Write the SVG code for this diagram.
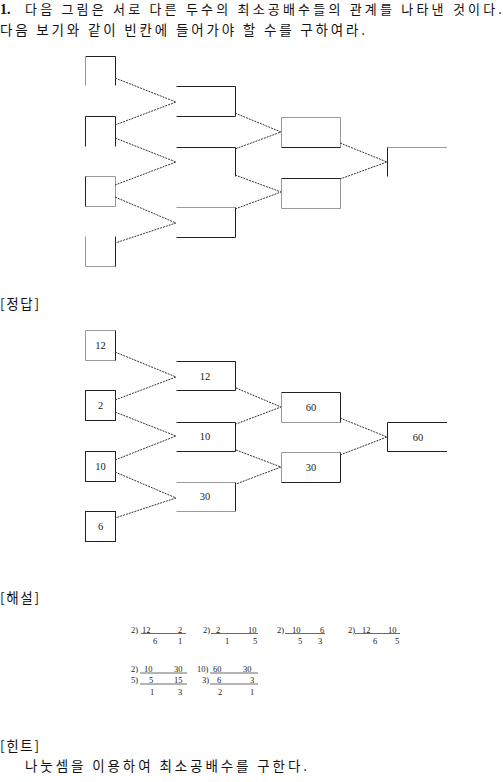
<svg xmlns="http://www.w3.org/2000/svg" width="503" height="782" viewBox="0 0 503 782">
<style>
.ko{font-family:"Noto Sans CJK KR","Noto Sans",sans-serif;font-size:13.5px;fill:#111}
.num{font-family:"Liberation Serif",serif;font-size:10.5px;fill:#222;text-anchor:middle}
.ex{font-family:"Liberation Serif",serif;font-size:8.5px;fill:#222}
.d{stroke:#222;stroke-width:1;fill:none}
.g{stroke:#999;stroke-width:1;fill:none}
.dash{stroke:#333;stroke-width:1;stroke-dasharray:2 1;fill:none}
.ul{stroke:#444;stroke-width:0.8}
</style>
<rect width="503" height="782" fill="#fff"/>
<g id="question">
<text x="0" y="14" style="font-family:'Liberation Serif',serif;font-weight:bold;font-size:14px;fill:#111">1.</text>
<text class="ko" x="25" y="14" style="font-size:13px" textLength="477" lengthAdjust="spacing">다음 그림은 서로 다른 두수의 최소공배수들의 관계를 나타낸 것이다.</text>
<text class="ko" x="0" y="35" textLength="365" lengthAdjust="spacing">다음 보기와 같이 빈칸에 들어가야 할 수를 구하여라.</text>
</g>
<g id="diagram1">
<g id="q-n12"><path class="d" d="M85.5,56.5H115.5V85.5"/><path class="g" d="M85.5,56.5V85.5"/></g>
<g id="q-n2"><path class="d" d="M85.5,146.5V116.5H115.5V146.5"/></g>
<g id="q-n10"><path class="g" d="M85.5,176.5H115.5V206.5H85.5"/><path class="d" d="M85.5,176.5V206.5"/></g>
<g id="q-n6"><path class="g" d="M85.5,236.5V266.5H115.5"/><path class="d" d="M115.5,236.5V266.5"/></g>
<g id="q-a"><path class="d" d="M176.5,86.5H235.5V116.5H176.5"/></g>
<g id="q-b"><path class="d" d="M176.5,147.5H235.5V176.5"/></g>
<g id="q-c"><path class="g" d="M176.5,207.5H235.5"/><path class="d" d="M235.5,207.5V237.5H176.5"/></g>
<g id="q-d"><path class="g" d="M281.5,147.5V117.5H340.5V147.5"/><path class="d" d="M281.5,147.5H340.5"/></g>
<g id="q-e"><path class="d" d="M281.5,178.5H340.5"/><path class="g" d="M281.5,178.5V208.5H340.5V178.5"/></g>
<g id="q-f"><path class="g" d="M387.5,147.5H447"/><path class="d" d="M387.5,147.5V176.5"/></g>
<g id="q-connectors">
<path class="dash" d="M115,78L176,102L115,125M115,138L176,162L115,185M115,197L176,223L115,243"/>
<path class="dash" d="M235,113L281,132L235,149M235,175L281,192L235,209"/>
<path class="dash" d="M340,143L387,162L340,179"/>
</g>
</g>
<text class="ko" x="0" y="309" textLength="39" lengthAdjust="spacing">[정답]</text>
<g id="diagram2">
<g id="a-n12"><path class="g" d="M115.5,360.5H85.5V330.5H115.5"/><path class="d" d="M115.5,330.5V360.5"/><text class="num" x="100.5" y="349">12</text></g>
<g id="a-n2"><rect class="d" x="85.5" y="390.5" width="30" height="30"/><text class="num" x="100.5" y="409">2</text></g>
<g id="a-n10"><rect class="d" x="85.5" y="451.5" width="30" height="30"/><text class="num" x="100.5" y="470">10</text></g>
<g id="a-n6"><rect class="d" x="85.5" y="511.5" width="30" height="30"/><text class="num" x="100.5" y="530">6</text></g>
<g id="a-m12"><path class="d" d="M176.5,361.5H235.5V390.5H176.5"/><text class="num" x="205" y="380">12</text></g>
<g id="a-m10"><path class="d" d="M176.5,422.5H235.5V451.5H176.5"/><text class="num" x="205" y="440">10</text></g>
<g id="a-m30"><path class="g" d="M176.5,482.5H235.5"/><path class="d" d="M235.5,482.5V511.5"/><path class="g" d="M235.5,511.5H176.5"/><text class="num" x="205" y="500">30</text></g>
<g id="a-d60"><path class="g" d="M281.5,392.5V422.5H340.5"/><path class="d" d="M281.5,392.5H340.5V422.5"/><text class="num" x="311" y="411">60</text></g>
<g id="a-e30"><path class="g" d="M281.5,482.5V452.5H340.5"/><path class="d" d="M281.5,482.5H340.5V452.5"/><text class="num" x="311" y="471">30</text></g>
<g id="a-f60"><path class="d" d="M447,422.5H387.5V451.5H447"/><text class="num" x="418" y="441">60</text></g>
<g id="a-connectors">
<path class="dash" d="M115,352L176,377L115,400M115,412L176,436L115,460M115,472L176,498L115,518"/>
<path class="dash" d="M236,388L281,407L236,424M236,450L281,467L236,484"/>
<path class="dash" d="M340,418L387,437L340,455"/>
</g>
</g>
<text class="ko" x="0" y="603" textLength="39" lengthAdjust="spacing">[해설]</text>
<g id="explanation">
<text class="ex" x="131" y="632.5">2)</text><text class="ex" x="142" y="632.5">12</text><text class="ex" x="178" y="632.5">2</text>
<line class="ul" x1="141" y1="633.5" x2="186" y2="633.5"/>
<text class="ex" x="153" y="644">6</text><text class="ex" x="178" y="644">1</text>
<text class="ex" x="203" y="632.5">2)</text><text class="ex" x="216" y="632.5">2</text><text class="ex" x="248" y="632.5">10</text>
<line class="ul" x1="211" y1="633.5" x2="258" y2="633.5"/>
<text class="ex" x="225" y="644">1</text><text class="ex" x="253" y="644">5</text>
<text class="ex" x="277" y="632.5">2)</text><text class="ex" x="292" y="632.5">10</text><text class="ex" x="320" y="632.5">6</text>
<line class="ul" x1="285" y1="633.5" x2="325" y2="633.5"/>
<text class="ex" x="298" y="644">5</text><text class="ex" x="318" y="644">3</text>
<text class="ex" x="348" y="632.5">2)</text><text class="ex" x="362" y="632.5">12</text><text class="ex" x="388" y="632.5">10</text>
<line class="ul" x1="355" y1="633.5" x2="400" y2="633.5"/>
<text class="ex" x="373" y="644">6</text><text class="ex" x="395" y="644">5</text>
<text class="ex" x="131" y="672">2)</text><text class="ex" x="144" y="672">10</text><text class="ex" x="174" y="672">30</text>
<line class="ul" x1="140" y1="673" x2="187" y2="673"/>
<text class="ex" x="131" y="683">5)</text><text class="ex" x="149" y="683">5</text><text class="ex" x="174" y="683">15</text>
<line class="ul" x1="140" y1="684" x2="187" y2="684"/>
<text class="ex" x="150" y="694.5">1</text><text class="ex" x="178" y="694.5">3</text>
<text class="ex" x="197" y="672">10)</text><text class="ex" x="213" y="672">60</text><text class="ex" x="243" y="672">30</text>
<line class="ul" x1="210" y1="673" x2="258" y2="673"/>
<text class="ex" x="202" y="683">3)</text><text class="ex" x="217" y="683">6</text><text class="ex" x="250" y="683">3</text>
<line class="ul" x1="210" y1="684" x2="258" y2="684"/>
<text class="ex" x="218" y="694.5">2</text><text class="ex" x="250" y="694.5">1</text>
</g>
<g id="hint">
<text class="ko" x="0" y="751" textLength="39" lengthAdjust="spacing">[힌트]</text>
<text class="ko" x="25" y="771" textLength="282" lengthAdjust="spacing">나눗셈을 이용하여 최소공배수를 구한다.</text>
</g>
</svg>
